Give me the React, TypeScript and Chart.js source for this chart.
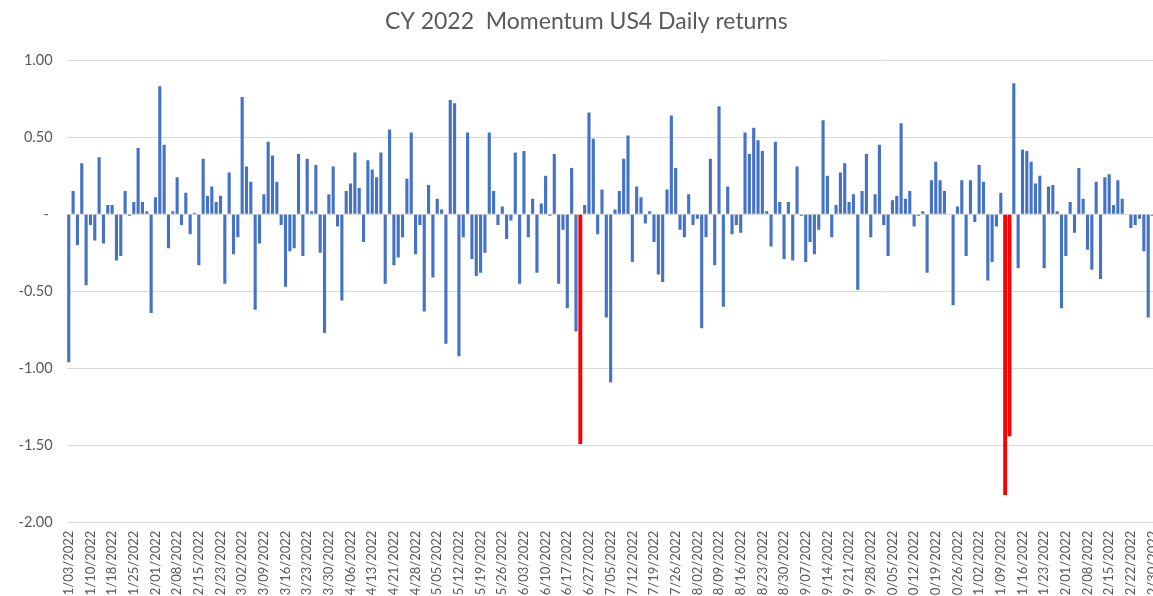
import React, { useEffect, useRef } from "react";
import { Chart, registerables } from "chart.js";

Chart.register(...registerables);

// ---------- Data ----------
const TITLE = "CY 2022  Momentum US4 Daily returns";
const YEAR = 2022;
// NYSE holidays falling on weekdays in 2022 (M/D)
const HOLIDAYS = ["1/17", "2/21", "4/15", "5/30", "6/20", "7/4", "9/5", "11/24", "12/26"];

// Daily returns (%) by month, in trading-day order
const JAN = [-0.96, 0.15, -0.2, 0.33, -0.46, -0.07, -0.17, 0.37, -0.19, 0.06, 0.06, -0.3, -0.27, 0.15, -0.01, 0.08, 0.43, 0.08, 0.02, -0.64];
const FEB = [0.11, 0.83, 0.45, -0.22, 0.02, 0.24, -0.07, 0.14, -0.13, 0.01, -0.33, 0.36, 0.12, 0.18, 0.08, 0.12, -0.45, 0.27, -0.26];
const MAR = [-0.15, 0.76, 0.31, 0.21, -0.62, -0.19, 0.13, 0.47, 0.38, 0.21, -0.07, -0.47, -0.24, -0.22, 0.39, -0.27, 0.36, 0.02, 0.32, -0.25, -0.77, 0.13, 0.31];
const APR = [-0.08, -0.56, 0.15, 0.2, 0.4, 0.17, -0.18, 0.35, 0.29, 0.24, 0.4, -0.45, 0.55, -0.33, -0.28, -0.15, 0.23, 0.53, -0.26, -0.07];
const MAY = [-0.63, 0.19, -0.41, 0.1, 0.03, -0.84, 0.74, 0.72, -0.92, -0.15, 0.53, -0.29, -0.4, -0.38, -0.25, 0.53, 0.15, -0.07, 0.05, -0.16, -0.04];
const JUN = [0.4, -0.45, 0.41, -0.15, 0.1, -0.38, 0.07, 0.25, -0.01, 0.39, -0.45, -0.1, -0.61, 0.3, -0.76, -1.49, 0.06, 0.66, 0.49, -0.13, 0.16];
const JUL = [-0.67, -1.09, 0.03, 0.15, 0.36, 0.51, -0.31, 0.18, 0.11, -0.06, 0.02, -0.18, -0.39, -0.44, 0.16, 0.64, 0.3, -0.1, -0.15, 0.13];
const AUG = [-0.07, -0.03, -0.74, -0.15, 0.36, -0.33, 0.7, -0.6, 0.18, -0.13, -0.07, -0.12, 0.53, 0.39, 0.56, 0.48, 0.41, 0.02, -0.21, 0.47, 0.08, -0.29, 0.08];
const SEP = [-0.3, 0.31, -0.01, -0.31, -0.18, -0.26, -0.1, 0.61, 0.25, -0.15, 0.06, 0.27, 0.33, 0.08, 0.13, -0.49, 0.15, 0.39, -0.15, 0.13, 0.45];
const OCT = [-0.07, -0.27, 0.09, 0.12, 0.59, 0.1, 0.15, -0.08, -0.01, 0.02, -0.38, 0.22, 0.34, 0.22, 0.15, 0.0, -0.59, 0.05, 0.22, -0.27, 0.22];
const NOV = [-0.05, 0.32, 0.21, -0.43, -0.31, -0.08, 0.14, -1.82, -1.44, 0.85, -0.35, 0.42, 0.41, 0.34, 0.2, 0.25, -0.35, 0.18, 0.19, 0.02, -0.61];
const DEC = [-0.27, 0.08, -0.12, 0.3, 0.1, -0.23, -0.36, 0.21, -0.42, 0.24, 0.26, 0.06, 0.22, 0.1, 0.0, -0.09, -0.07, -0.03, -0.24, -0.67, -0.01];

// Days whose bars are highlighted in red
const HIGHLIGHT_DATES = ["6/23/2022", "11/10/2022", "11/11/2022"];

// Y axis range / step
const Y_MIN = -2;
const Y_MAX = 1;
const Y_STEP = 0.5;
// Every Nth trading day gets a date label
const LABEL_EVERY = 5;

// ---------- Helpers ----------
function tradingDays(year: number): string[] {
  const out: string[] = [];
  const d = new Date(year, 0, 1);
  while (d.getFullYear() === year) {
    const wd = d.getDay();
    const m = d.getMonth() + 1;
    const day = d.getDate();
    if (wd !== 0 && wd !== 6 && !HOLIDAYS.includes(`${m}/${day}`)) {
      out.push(`${m}/${String(day).padStart(2, "0")}/${year}`);
    }
    d.setDate(d.getDate() + 1);
  }
  return out;
}

const CANVAS_W = 1180;
const CANVAS_H = 596;
const PLOT_LEFT = 66.6;
const PLOT_RIGHT = 1154.7;
const PAD_LEFT = 18;
const FONT = "Lato, 'Open Sans', sans-serif";
const TEXT_COLOR = "#595959";

export default function App() {
  const ref = useRef<HTMLCanvasElement | null>(null);

  useEffect(() => {
    if (!ref.current) return;
    const labels = tradingDays(YEAR);
    const values = [...JAN, ...FEB, ...MAR, ...APR, ...MAY, ...JUN, ...JUL, ...AUG, ...SEP, ...OCT, ...NOV, ...DEC];
    const isHi = (i: number) => HIGHLIGHT_DATES.includes(labels[i]);
    const blue = values.map((v, i) => (isHi(i) ? null : v));
    const red = values.map((v, i) => (isHi(i) ? v : null));

    const chart = new Chart(ref.current, {
      type: "bar",
      data: {
        labels,
        datasets: [
          {
            data: blue,
            backgroundColor: "#4472C4",
            barPercentage: 0.72,
            categoryPercentage: 1,
            grouped: false,
          },
          {
            data: red,
            backgroundColor: "#FF0000",
            barPercentage: 0.9,
            categoryPercentage: 1,
            grouped: false,
          },
        ],
      },
      options: {
        responsive: false,
        animation: false,
        devicePixelRatio: 1,
        layout: { padding: { left: PAD_LEFT, right: CANVAS_W - PLOT_RIGHT, top: 0, bottom: 0 } },
        plugins: {
          legend: { display: false },
          tooltip: { enabled: false },
          title: {
            display: true,
            text: TITLE,
            color: TEXT_COLOR,
            font: { family: FONT, size: 23, weight: "normal", lineHeight: 1.2 },
            padding: { top: 8, bottom: 60 - 8 - 23 * 1.2 },
          },
        },
        scales: {
          x: {
            grid: { display: false, drawTicks: false },
            border: { display: false },
            ticks: {
              autoSkip: false,
              minRotation: 90,
              maxRotation: 90,
              padding: 8,
              color: TEXT_COLOR,
              font: { family: FONT, size: 13 },
              callback: (_v: any, idx: number) => (idx % LABEL_EVERY === 0 ? labels[idx] : ""),
            },
            afterFit: (s: any) => {
              s.height = 73.3;
            },
          },
          y: {
            min: Y_MIN,
            max: Y_MAX,
            ticks: {
              stepSize: Y_STEP,
              padding: 14,
              color: TEXT_COLOR,
              font: { family: FONT, size: 14.5 },
              callback: (v: any) => (Number(v) === 0 ? "- " : Number(v).toFixed(2)),
            },
            grid: { color: "#D9D9D9", lineWidth: 1, drawTicks: false },
            border: { display: false },
            afterFit: (s: any) => {
              s.width = PLOT_LEFT - PAD_LEFT;
            },
          },
        },
      },
    } as any);
    return () => chart.destroy();
  }, []);

  return (
    <div
      style={{
        position: "fixed",
        left: 0,
        top: 0,
        width: 1153,
        height: 596,
        overflow: "hidden",
        background: "#ffffff",
      }}
    >
      <canvas ref={ref} width={CANVAS_W} height={CANVAS_H} style={{ width: CANVAS_W, height: CANVAS_H, display: "block" }} />
    </div>
  );
}
